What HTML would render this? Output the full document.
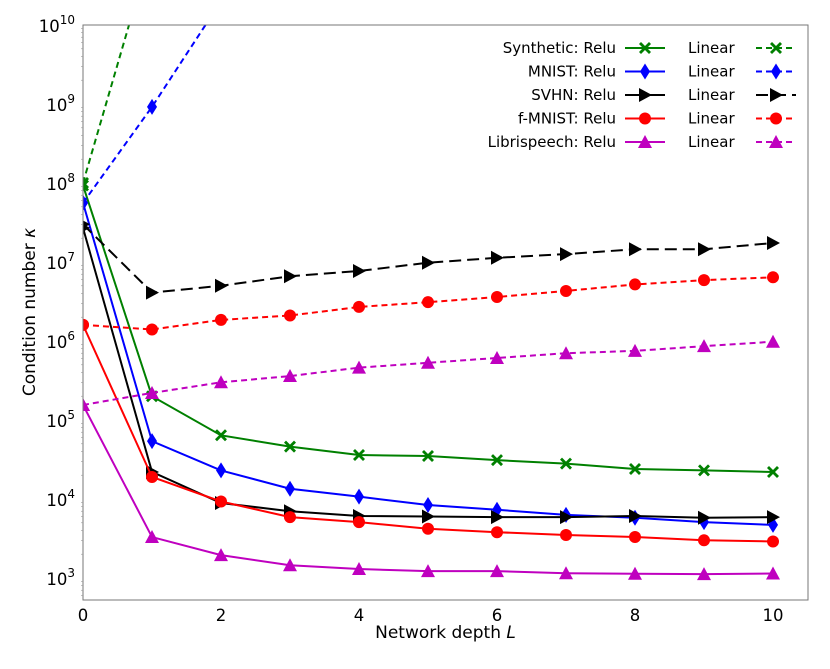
<!DOCTYPE html>
<html><head><meta charset="utf-8"><style>
body{margin:0;background:#fff}
text{font-family:"DejaVu Sans","Liberation Sans",sans-serif;fill:#000}
</style></head><body>
<svg id="c" width="830" height="664" xmlns="http://www.w3.org/2000/svg"></svg>
<script>
const depths=[0,1,2,3,4,5,6,7,8,9,10];
const synthRelu=[9.3e7,2e5,6.4e4,4.6e4,3.6e4,3.5e4,3.1e4,2.8e4,2.4e4,2.3e4,2.2e4];
const synthLin=[1e8,1e11,1e14,1e17,1e20,1e23,1e26,1e29,1e32,1e35,1e38];
const mnistRelu=[5.6e7,5.4e4,2.3e4,1.35e4,1.07e4,8.4e3,7.3e3,6.3e3,5.8e3,5.1e3,4.7e3];
const mnistLin=[5.6e7,9.2e8,2e10,4e11,8e12,1.6e14,3e15,6e16,1e18,2e19,4e20];
const svhnRelu=[2.7e7,2.2e4,8.9e3,7e3,6.1e3,6e3,5.9e3,5.9e3,6.1e3,5.8e3,5.9e3];
const svhnLin=[3e7,4.1e6,5e6,6.6e6,7.7e6,9.8e6,1.13e7,1.26e7,1.45e7,1.45e7,1.74e7];
const fmRelu=[1.6e6,1.9e4,9.3e3,5.9e3,5.1e3,4.2e3,3.8e3,3.5e3,3.3e3,3e3,2.9e3];
const fmLin=[1.6e6,1.4e6,1.85e6,2.1e6,2.7e6,3.1e6,3.6e6,4.3e6,5.2e6,5.9e6,6.4e6];
const libRelu=[1.55e5,3.3e3,1.95e3,1.45e3,1.3e3,1.22e3,1.22e3,1.15e3,1.13e3,1.12e3,1.14e3];
const libLin=[1.55e5,2.2e5,3e5,3.6e5,4.6e5,5.3e5,6.1e5,7e5,7.5e5,8.6e5,9.8e5];
const yTicks=[3,4,5,6,7,8,9,10];
const xTicks=[0,2,4,6,8,10];

const NS="http://www.w3.org/2000/svg",svg=document.getElementById('c');
const L=83,R=808,T=25,B=600;
const X=v=>L+v*69;
const Y=v=>T+(10-Math.log10(v))*79;
function el(t,a,p){const e=document.createElementNS(NS,t);for(const k in a)e.setAttribute(k,a[k]);(p||svg).appendChild(e);return e;}
const defs=el('defs',{});const cp=el('clipPath',{id:'cp'},defs);el('rect',{x:L,y:T,width:R-L,height:B-T},cp);
function marker(g,type,x,y,col){let e;
 if(type==='x'){e=el('path',{d:`M${x-6},${y-4}L${x-4},${y-6}L${x},${y-2}L${x+4},${y-6}L${x+6},${y-4}L${x+2},${y}L${x+6},${y+4}L${x+4},${y+6}L${x},${y+2}L${x-4},${y+6}L${x-6},${y+4}L${x-2},${y}Z`,fill:col},g);}
 else if(type==='d'){e=el('path',{d:`M${x},${y-8}L${x+5},${y}L${x},${y+8}L${x-5},${y}Z`,fill:col},g);}
 else if(type==='r'){e=el('path',{d:`M${x+7},${y}L${x-6},${y-7}L${x-6},${y+7}Z`,fill:col},g);}
 else if(type==='o'){e=el('circle',{cx:x,cy:y,r:6,fill:col},g);}
 else {e=el('path',{d:`M${x},${y-7}L${x+7},${y+6}L${x-7},${y+6}Z`,fill:col},g);}
 
 }
const series=[
 ['synthetic-relu',synthRelu,'#008000','x',null],['synthetic-linear',synthLin,'#008000','x','6,4'],
 ['mnist-relu',mnistRelu,'#0000ff','d',null],['mnist-linear',mnistLin,'#0000ff','d','6,4'],
 ['svhn-relu',svhnRelu,'#000','r',null],['svhn-linear',svhnLin,'#000','r','12,6'],
 ['fmnist-relu',fmRelu,'#ff0000','o',null],['fmnist-linear',fmLin,'#ff0000','o','6,4'],
 ['librispeech-relu',libRelu,'#bf00bf','^',null],['librispeech-linear',libLin,'#bf00bf','^','6,4']];
const plot=el('g',{'clip-path':'url(#cp)'});

series.forEach(([n,d,c,m,da])=>{const g=el('g',{},plot);
 
 
 const p=el('polyline',{points:d.map((v,i)=>X(depths[i])+','+Y(v)).join(' '),fill:'none',stroke:c,'stroke-width':2},g);
 if(da)p.setAttribute('stroke-dasharray',da);
 d.forEach((v,i)=>marker(g,m,X(depths[i]),Y(v),c));});
// axes
el('rect',{x:L,y:T,width:R-L,height:B-T,fill:'none',stroke:'#777','stroke-width':1});
xTicks.forEach(t=>{
 const tx=el('text',{x:X(t),y:B+21,'text-anchor':'middle','font-size':16.5});tx.textContent=t;
 });
yTicks.forEach(t=>{const y=Y(Math.pow(10,t));
 for(let k=2;k<10;k++){const yy=Y(k*Math.pow(10,t-1));if(yy<B&&yy>T)el('line',{x1:L-2,x2:L,y1:yy,y2:yy,stroke:'#999','stroke-width':0.6});}
 const tx=el('text',{x:L-8,y:y+7,'text-anchor':'end','font-size':16.5});tx.innerHTML='10<tspan dy="-8" font-size="12">'+t+'</tspan>';
 });
const xt=el('text',{x:(L+R)/2,y:638,'text-anchor':'middle','font-size':17});xt.innerHTML='Network depth <tspan font-style="italic">L</tspan>';

const yt=el('text',{x:35,y:312,'text-anchor':'middle','font-size':17,transform:'rotate(-90 35 312)'});yt.innerHTML='Condition number <tspan font-style="italic">κ</tspan>';

// legend
const names=['Synthetic: Relu','MNIST: Relu','SVHN: Relu','f-MNIST: Relu','Librispeech: Relu'];
const lg=el('g',{});
names.forEach((nm,i)=>{const y=48+i*23.5;const r=series[2*i],l=series[2*i+1];
 const e=el('g',{},lg);
 let t=el('text',{x:616,y:y+5,'text-anchor':'end','font-size':15},e);t.textContent=nm;
 el('line',{x1:625,x2:665,y1:y,y2:y,stroke:r[2],'stroke-width':2},e);marker(e,r[3],645,y,r[2]);
 t=el('text',{x:688,y:y+5,'font-size':15},e);t.textContent='Linear';
 el('line',{x1:756,x2:796,y1:y,y2:y,stroke:l[2],'stroke-width':2,'stroke-dasharray':l[4]},e);marker(e,l[3],776,y,l[2]);});
</script>
</body></html>
